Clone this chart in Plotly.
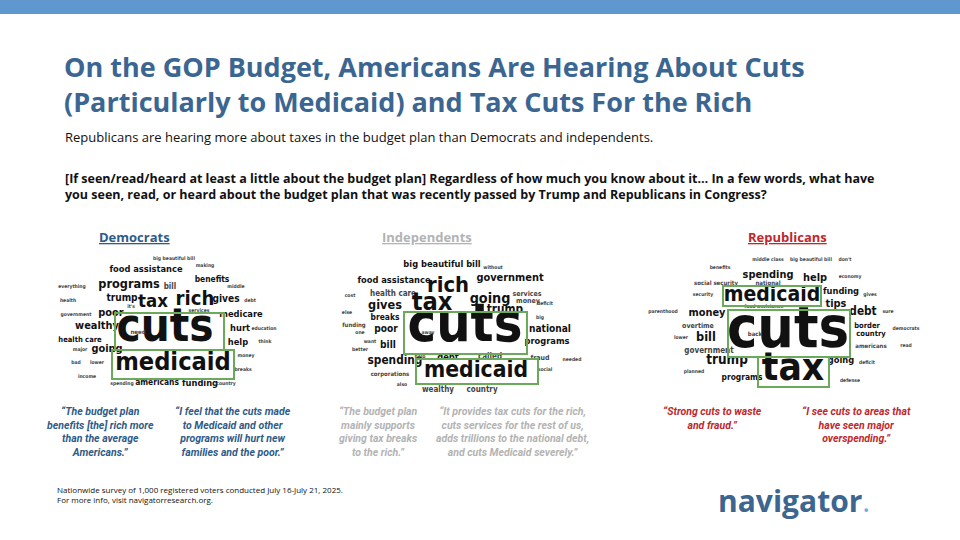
import plotly.graph_objects as go

# word clouds: word, x, y (page px), font size
dem_words = ["big beautiful bill", "making", "food assistance", "benefits", "programs", "bill", "everything", "middle",
             "trump", "tax", "rich", "gives", "health", "debt", "it's", "poor", "services", "government", "medicare",
             "wealthy", "cuts", "need", "hurt", "education", "health care", "going", "help", "think", "major",
             "medicaid", "bad", "lower", "money", "breaks", "income", "spending", "americans", "funding", "country"]
dem_x = [174, 205, 146, 212, 129, 170, 72, 236, 122, 153, 195, 226, 68, 250, 131, 111, 199, 76, 241,
         97, 165, 138, 240, 264, 80, 107, 238, 265, 80, 173, 76, 97, 246, 243, 87, 122, 157, 200, 226]
dem_y = [259, 266, 270, 280, 285, 287, 287, 287, 298, 302, 300, 299, 301, 301, 307, 313, 311, 315, 315,
         326, 330, 332, 329, 329, 340, 349, 343, 342, 350, 364, 363, 363, 356, 370, 377, 384, 383, 384, 384]
dem_size = [5, 5, 11, 10, 15, 8, 5, 5, 12, 22, 24, 12, 5, 5, 5, 13, 5, 5, 11,
            13, 54, 6, 11, 5, 9, 13, 11, 5, 5, 30, 5, 5, 5, 5, 5, 5, 10, 11, 5]

ind_words = ["big beautiful bill", "without", "food assistance", "rich", "government", "health care", "cost",
             "services", "money", "deficit", "going", "gives", "tax", "else", "trump", "breaks", "big", "funding",
             "one", "poor", "cuts", "away", "national", "want", "better", "bill", "programs", "spending", "help",
             "debt", "called", "fraud", "needed", "medicaid", "social", "corporations", "also", "wealthy", "country"]
ind_x = [442, 493, 394, 448, 510, 393, 350, 527, 528, 545, 490, 385, 432, 347, 505, 385, 540, 354,
         360, 386, 465, 428, 550, 370, 360, 388, 547, 395, 420, 448, 490, 540, 572, 476, 545, 390, 402, 438, 482]
ind_y = [265, 268, 281, 287, 278, 294, 296, 294, 301, 304, 299, 306, 304, 313, 310, 318, 318, 325,
         333, 329, 328, 333, 329, 342, 350, 345, 342, 361, 357, 358, 357, 358, 360, 371, 370, 374, 385, 390, 390]
ind_size = [11, 5, 11, 26, 13, 8, 5, 7, 7, 5, 17, 15, 30, 5, 14, 10, 5, 6,
            5, 12, 64, 5, 12, 5, 5, 12, 11, 14, 5, 11, 8, 7, 5, 27, 5, 6, 5, 8, 8]

rep_words = ["middle class", "big beautiful bill", "don't", "benefits", "spending", "help", "economy",
             "social security", "national", "medicaid", "funding", "security", "gives", "tips", "food assistance",
             "parenthood", "money", "debt", "sure", "overtime", "border", "cuts", "democrats", "back", "lower",
             "country", "bill", "americans", "read", "government", "trump", "going", "deficit", "planned", "tax",
             "programs", "defense"]
rep_x = [768, 811, 845, 720, 768, 815, 850, 716, 768, 772, 841, 703, 870, 836, 764, 663, 707, 863, 888,
         698, 867, 788, 906, 755, 681, 871, 706, 871, 906, 709, 727, 841, 867, 694, 793, 742, 850]
rep_y = [260, 260, 260, 268, 275, 278, 277, 283, 283, 296, 292, 295, 295, 304, 307, 312, 313, 312, 312,
         326, 326, 333, 329, 334, 338, 334, 338, 346, 346, 351, 361, 361, 363, 372, 370, 378, 381]
rep_size = [5, 5, 5, 5, 13, 13, 5, 6, 6, 25, 11, 5, 5, 13, 5, 5, 13, 14, 5,
            7, 9, 68, 5, 6, 5, 9, 15, 6, 5, 8, 16, 11, 5, 5, 46, 10, 5]

# green highlight boxes: x0, y0, x1, y1
boxes = [(115, 313, 224, 350), (112, 350, 234, 379),
         (404, 312, 527, 354), (416, 359, 538, 384),
         (723, 286, 821, 306), (728, 310, 850, 357), (758, 357, 829, 387)]

groups = ["Democrats", "Independents", "Republicans"]
group_x = [134, 427, 787]
group_color = ["#2f5b88", "#b3b3b3", "#c0272d"]

quotes = ["\u201cThe budget plan<br>benefits [the] rich more<br>than the average<br>Americans.\u201d",
          "\u201cI feel that the cuts made<br>to Medicaid and other<br>programs will hurt new<br>families and the poor.\u201d",
          "\u201cThe budget plan<br>mainly supports<br>giving tax breaks<br>to the rich.\u201d",
          "\u201cIt provides tax cuts for the rich,<br>cuts services for the rest of us,<br>adds trillions to the national debt,<br>and cuts Medicaid severely.\u201d",
          "\u201cStrong cuts to waste<br>and fraud.\u201d",
          "\u201cI see cuts to areas that<br>have seen major<br>overspending.\u201d"]
quote_x = [100, 233, 378, 512, 712, 856]
quote_color = ["#2f5b88", "#2f5b88", "#b3b3b3", "#b3b3b3", "#c0272d", "#c0272d"]

fig = go.Figure()
for w, x, y, s in [(dem_words, dem_x, dem_y, dem_size),
                   (ind_words, ind_x, ind_y, ind_size),
                   (rep_words, rep_x, rep_y, rep_size)]:
    sz = [v * 0.84 if v > 8 else v for v in s]
    fig.add_trace(go.Scatter(
        x=x, y=y, text=["<b>" + t + "</b>" for t in w], mode="text", hoverinfo="skip",
        textfont=dict(size=sz, family="DejaVu Sans Condensed",
                      color=["#111" if v >= 9 else "#444" for v in s])))

for b in boxes:
    fig.add_shape(type="rect", x0=b[0], y0=b[1], x1=b[2], y1=b[3],
                  line=dict(color="#6aaa5a", width=2))

fig.add_shape(type="rect", x0=0, y0=0, x1=960, y1=14, fillcolor="#5e98cf", line_width=0)

fig.add_annotation(x=62, y=84, xanchor="left", yanchor="middle", align="left", showarrow=False,
                   text="<b>On the GOP Budget, Americans Are Hearing About Cuts<br>(Particularly to Medicaid) and Tax Cuts For the Rich</b>",
                   font=dict(size=27, color="#3b6691", family="Open Sans"))
fig.add_annotation(x=63, y=137, xanchor="left", yanchor="middle", showarrow=False,
                   text="Republicans are hearing more about taxes in the budget plan than Democrats and independents.",
                   font=dict(size=13, color="#111", family="Open Sans"))
fig.add_annotation(x=63, y=186, xanchor="left", yanchor="middle", align="left", showarrow=False,
                   text="<b>[If seen/read/heard at least a little about the budget plan] Regardless of how much you know about it\u2026 In a few words, what have<br>you seen, read, or heard about the budget plan that was recently passed by Trump and Republicans in Congress?</b>",
                   font=dict(size=12.5, color="#111", family="Open Sans"))

for g, x, c in zip(groups, group_x, group_color):
    fig.add_annotation(x=x, y=237, showarrow=False, text="<b><u>" + g + "</u></b>",
                       font=dict(size=13, color=c, family="Open Sans"))

for q, x, c in zip(quotes, quote_x, quote_color):
    fig.add_annotation(x=x, y=403, yanchor="top", showarrow=False, text="<i><b>" + q + "</b></i>",
                       font=dict(size=10.5, color=c, family="Roboto"))

fig.add_annotation(x=55, y=494, xanchor="left", yanchor="middle", align="left", showarrow=False,
                   text="Nationwide survey of 1,000 registered voters conducted July 16-July 21, 2025.<br>For more info, visit navigatorresearch.org.",
                   font=dict(size=8, color="#111", family="Open Sans"))
fig.add_annotation(x=872, y=500, xanchor="right", yanchor="middle", showarrow=False,
                   text="<b>navigator</b><span style='color:#6aaee0'>.</span>",
                   font=dict(size=30, color="#3c6590", family="Open Sans"))

fig.update_xaxes(range=[0, 960], visible=False, fixedrange=True)
fig.update_yaxes(range=[540, 0], visible=False, fixedrange=True)
fig.update_layout(width=960, height=540, margin=dict(l=0, r=0, t=0, b=0),
                  plot_bgcolor="white", paper_bgcolor="white", showlegend=False)
fig.write_html("out.html", config={"displayModeBar": False},
               post_script="document.body.style.margin='0';")
